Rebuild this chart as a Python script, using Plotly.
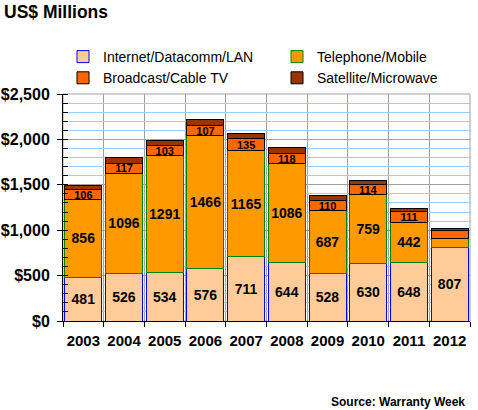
import plotly.graph_objects as go

years = [2003, 2004, 2005, 2006, 2007, 2008, 2009, 2010, 2011, 2012]
internet = [481, 526, 534, 576, 711, 644, 528, 630, 648, 807]
telephone = [856, 1096, 1291, 1466, 1165, 1086, 687, 759, 442, 100]
broadcast = [106, 117, 103, 107, 135, 118, 110, 114, 111, 92]
satellite = [52, 58, 64, 65, 56, 67, 59, 46, 40, 25]

internet_labels = [str(v) for v in internet]
telephone_labels = [str(v) for v in telephone[:-1]] + [""]
broadcast_labels = [str(v) for v in broadcast[:-1]] + [""]

year_labels = [str(y) for y in years]
y_ticks = [0, 500, 1000, 1500, 2000, 2500]
y_tick_labels = ["$0", "$500", "$1,000", "$1,500", "$2,000", "$2,500"]

FONT = "Liberation Sans, Arial, sans-serif"

fig = go.Figure()

def add(name, vals, labels, fill, line, size, legend, group):
    fig.add_trace(go.Bar(
        x=years, y=vals, name=name,
        marker=dict(color=fill, line=dict(color=line, width=1)),
        text=labels, textposition="inside" if labels else "none",
        insidetextanchor="middle", textangle=0, constraintext="none",
        textfont=dict(family=FONT, size=size, color="black", weight="bold"),
        hoverinfo="skip", legend=legend, legendgroup=group,
    ))

add("Internet/Datacomm/LAN", internet, internet_labels, "#FFCC99", "#0000FF", 14, "legend", "a")
add("Telephone/Mobile", telephone, telephone_labels, "#FF9900", "#008000", 14, "legend2", "b")
add("Broadcast/Cable TV", broadcast, broadcast_labels, "#FF6600", "#000000", 11, "legend", "c")
add("Satellite/Microwave", satellite, None, "#993300", "#000000", 11, "legend2", "d")

legend_common = dict(
    orientation="v", xref="container", yref="container",
    yanchor="top", xanchor="left", traceorder="normal",
    tracegroupgap=1, bgcolor="rgba(0,0,0,0)", borderwidth=0,
    font=dict(family=FONT, size=14, color="black"),
)

fig.update_layout(
    width=478, height=410,
    margin=dict(l=63, r=8, t=94, b=89, autoexpand=False),
    paper_bgcolor="white", plot_bgcolor="white",
    barmode="stack", bargap=0.09,
    showlegend=True,
    legend=dict(x=63 / 478, y=1 - 41 / 410, **legend_common),
    legend2=dict(x=277 / 478, y=1 - 41 / 410, **legend_common),
    title=dict(text="<b>US$ Millions</b>", x=4 / 478, xanchor="left",
               y=1 - 12 / 410, yanchor="middle",
               font=dict(family=FONT, size=17.5, color="black")),
    xaxis=dict(
        range=[2002.5, 2012.5], tickvals=years, ticktext=year_labels,
        ticks="", showgrid=False, zeroline=False,
        showline=True, linecolor="black", linewidth=1,
        tickfont=dict(family=FONT, size=15, color="black", weight="bold"),
        ticklabelstandoff=6,
        minor=dict(tick0=2002.5, dtick=1, ticks="outside", ticklen=5,
                   tickcolor="black", showgrid=True, gridcolor="#A0A0A0",
                   gridwidth=1),
    ),
    yaxis=dict(
        range=[0, 2500], tickvals=y_ticks, ticktext=y_tick_labels,
        ticks="outside", ticklen=5, tickcolor="black",
        showgrid=True, gridcolor="#A0A0A0", gridwidth=1, zeroline=False,
        showline=True, linecolor="black", linewidth=1,
        tickfont=dict(family=FONT, size=16, color="black", weight="bold"),
        ticklabelstandoff=4,
        minor=dict(dtick=100, ticks="inside", ticklen=5, tickcolor="black",
                   showgrid=True, gridcolor="#99CCFF", gridwidth=1),
    ),
    shapes=[dict(type="rect", xref="paper", yref="paper", x0=0, x1=1, y0=0, y1=1,
                 line=dict(color="#A0A0A0", width=1), layer="below")],
    annotations=[dict(text="<b>Source: Warranty Week</b>", xref="paper", yref="paper",
                      x=(467 - 63) / 407, y=-(401.5 - 321) / 227,
                      xanchor="right", yanchor="middle", showarrow=False,
                      font=dict(family=FONT, size=12, color="black"))],
)

fig.write_html("out.html", config={"displayModeBar": False},
               post_script="document.body.style.margin='0';document.body.style.padding='0';")
